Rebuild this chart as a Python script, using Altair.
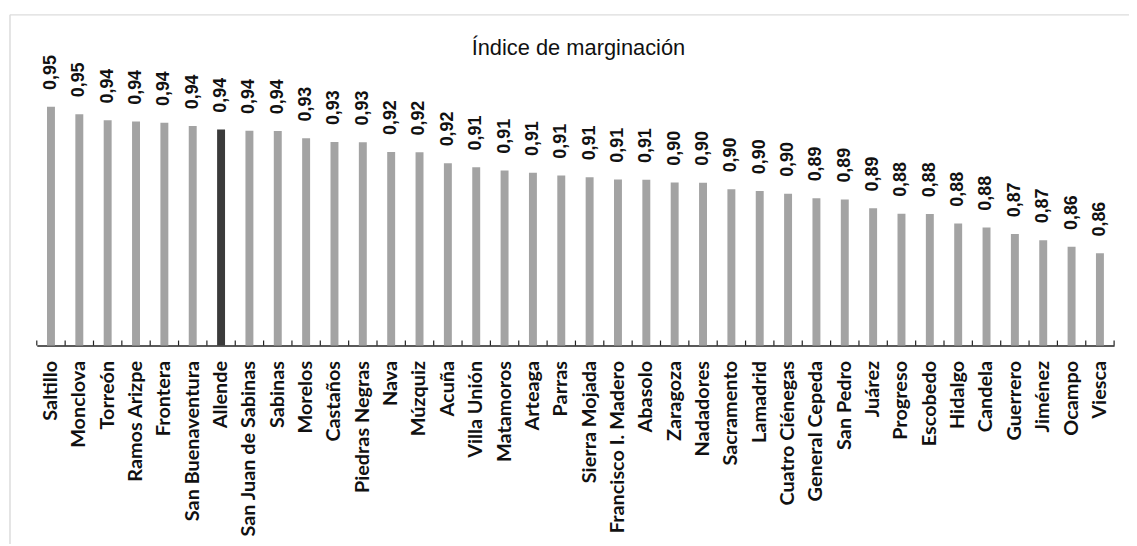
import altair as alt
import pandas as pd

titulo = "Índice de marginación"

municipios = [
    "Saltillo", "Monclova", "Torreón", "Ramos Arizpe", "Frontera", "San Buenaventura",
    "Allende", "San Juan de Sabinas", "Sabinas", "Morelos", "Castaños", "Piedras Negras",
    "Nava", "Múzquiz", "Acuña", "Villa Unión", "Matamoros", "Arteaga", "Parras",
    "Sierra Mojada", "Francisco I. Madero", "Abasolo", "Zaragoza", "Nadadores",
    "Sacramento", "Lamadrid", "Cuatro Ciénegas", "General Cepeda", "San Pedro", "Juárez",
    "Progreso", "Escobedo", "Hidalgo", "Candela", "Guerrero", "Jiménez", "Ocampo", "Viesca",
]

indice = [
    0.9536, 0.9489, 0.9449, 0.9441, 0.9433, 0.9412,
    0.9390, 0.9382, 0.9380, 0.9333, 0.9310, 0.9308,
    0.9246, 0.9243, 0.9173, 0.9147, 0.9126, 0.9111, 0.9094,
    0.9083, 0.9068, 0.9066, 0.9049, 0.9048,
    0.9006, 0.8994, 0.8977, 0.8948, 0.8940, 0.8883,
    0.8848, 0.8846, 0.8785, 0.8759, 0.8717, 0.8678, 0.8635, 0.8593,
]

destacado = ["Allende"]

df = pd.DataFrame({"municipio": municipios, "indice": indice})
df["grupo"] = ["destacado" if m in destacado else "resto" for m in municipios]

W, H = 1085, 313

eje_x = alt.Axis(
    title=None, labelAngle=-90, labelFont="Lato", labelFontWeight="bold",
    labelFontSize=20, labelColor="#111111", labelPadding=15, ticks=False,
    domainColor="#222222", domainWidth=1.5,
)
x_enc = alt.X("municipio:N", sort=None,
              scale=alt.Scale(paddingInner=0, paddingOuter=0), axis=eje_x)
y_enc = alt.Y("indice:Q", stack=None,
              scale=alt.Scale(domain=[0.8, 1.0], zero=False, nice=False),
              axis=None)

base = alt.Chart(df)

barras = base.mark_bar(size=8).encode(
    x=x_enc,
    y=y_enc,
    y2=alt.value(H),
    color=alt.Color("grupo:N", legend=None,
                    scale=alt.Scale(domain=["resto", "destacado"],
                                    range=["#a3a3a3", "#3b3b3b"])),
)

etiquetas = base.transform_calculate(
    etiqueta="replace(format(datum.indice, '.2f'), '.', ',')"
).mark_text(
    angle=270, align="left", baseline="middle", dx=17,
    font="Liberation Sans", fontSize=18, fontWeight="bold", color="#111111",
).encode(x=x_enc, y=y_enc, text="etiqueta:N")

marcas = base.mark_rule(color="#222222", strokeWidth=1.2).encode(
    x=alt.X("municipio:N", sort=None, bandPosition=0,
            scale=alt.Scale(paddingInner=0, paddingOuter=0), axis=eje_x),
    y=alt.value(H), y2=alt.value(H - 5),
)

uno = alt.Chart(pd.DataFrame({"t": [titulo]}))

marca_final = uno.mark_rule(color="#222222", strokeWidth=1.2).encode(
    x=alt.value(W), y=alt.value(H), y2=alt.value(H - 5)
)

texto_titulo = uno.mark_text(
    font="Liberation Sans", fontSize=22, color="#111111", align="center",
    baseline="alphabetic",
).encode(x=alt.value(W / 2 + 3), y=alt.value(20), text="t:N")

marco_izq = uno.mark_rule(color="#dcdcdc", strokeWidth=1.5).encode(
    x=alt.value(-27), y=alt.value(-20), y2=alt.value(H + 200)
)
marco_sup = uno.mark_rule(color="#dcdcdc", strokeWidth=1.5).encode(
    x=alt.value(-27), x2=alt.value(W + 15), y=alt.value(-20)
)

chart = alt.layer(
    marco_izq, marco_sup, barras, etiquetas, marcas, marca_final, texto_titulo
).properties(
    width=W, height=H,
    autosize=alt.AutoSizeParams(type="none"),
    padding={"left": 29, "top": 25, "right": 15, "bottom": 200},
    background="white",
).configure_view(stroke=None)

chart.save("out.html", embed_options={"renderer": "svg", "actions": False})
